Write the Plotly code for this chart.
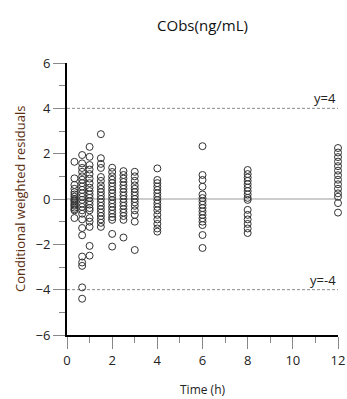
import plotly.graph_objects as go

# Observation times (h) and conditional weighted residuals per time point
times = [0.33, 0.67, 1, 1.5, 2, 2.5, 3, 4, 6, 8, 12]
res_033 = [1.64, 0.91, 0.62, 0.45, 0.3, 0.2, 0.1, 0.0, -0.05, -0.1, -0.18, -0.25, -0.3, -0.38, -0.45, -0.5, -0.84]
res_067 = [1.94, 1.57, 1.37, 1.2, 1.0, 0.85, 0.7, 0.55, 0.4, 0.25, 0.1, -0.04, -0.2, -0.35, -0.5, -0.65, -0.9,
           -1.28, -1.6, -2.54, -2.8, -2.95, -3.9, -4.4]
res_1 = [2.3, 1.86, 1.5, 1.3, 1.1, 0.9, 0.7, 0.5, 0.35, 0.2, 0.05, -0.1, -0.25, -0.4, -0.5, -0.84, -1.0, -1.23, -2.07, -2.5]
res_15 = [2.86, 1.8, 1.55, 1.37, 0.97, 0.8, 0.6, 0.45, 0.3, 0.15, 0.0, -0.15, -0.3, -0.45, -0.6, -0.75, -0.9, -1.05, -1.23]
res_2 = [1.38, 1.19, 1.0, 0.85, 0.7, 0.55, 0.4, 0.25, 0.1, -0.05, -0.2, -0.35, -0.5, -0.65, -0.8, -0.92, -1.54, -2.1]
res_25 = [1.23, 1.06, 0.9, 0.75, 0.6, 0.45, 0.3, 0.15, 0.0, -0.15, -0.3, -0.45, -0.6, -0.75, -0.92, -1.7]
res_3 = [1.2, 1.0, 0.8, 0.6, 0.45, 0.3, 0.15, 0.0, -0.15, -0.3, -0.5, -0.7, -1.0, -2.25]
res_4 = [1.35, 0.84, 0.7, 0.55, 0.4, 0.25, 0.1, -0.05, -0.2, -0.35, -0.5, -0.7, -0.9, -1.1, -1.3, -1.44]
res_6 = [2.33, 1.06, 0.84, 0.54, 0.2, 0.04, -0.1, -0.25, -0.4, -0.55, -0.7, -0.85, -1.0, -1.15, -1.59, -2.16]
res_8 = [1.28, 1.1, 0.95, 0.8, 0.65, 0.5, 0.35, 0.2, 0.05, -0.04, -0.48, -0.7, -0.9, -1.1, -1.3, -1.5]
res_12 = [2.25, 2.05, 1.85, 1.65, 1.45, 1.25, 1.05, 0.85, 0.65, 0.45, 0.25, 0.1, -0.18, -0.6]

residuals = [res_033, res_067, res_1, res_15, res_2, res_25, res_3, res_4, res_6, res_8, res_12]
ref_levels = [4, -4]
ref_labels = ["y=4", "y=-4"]

xs, ys = [], []
for t, vals in zip(times, residuals):
    xs += [t] * len(vals)
    ys += vals

FONT = "Open Sans"
fig = go.Figure()

# zero line
fig.add_trace(go.Scatter(x=[0, 12], y=[0, 0], mode="lines",
                         line=dict(color="#9a9a9a", width=1), hoverinfo="skip", showlegend=False))
# +/-4 reference lines
for lv in ref_levels:
    fig.add_trace(go.Scatter(x=[0, 12], y=[lv, lv], mode="lines",
                             line=dict(color="#8a8a8a", width=1, dash="3px,2px"),
                             hoverinfo="skip", showlegend=False))

fig.add_trace(go.Scatter(x=xs, y=ys, mode="markers",
                         marker=dict(symbol="circle-open", size=7, color="#333333", line=dict(width=1)),
                         cliponaxis=False, showlegend=False))

for lv, lab in zip(ref_levels, ref_labels):
    fig.add_annotation(x=12, y=lv, text=lab, showarrow=False, xanchor="right", yanchor="bottom",
                       yshift=-1, font=dict(family=FONT, size=13, color="#222"))

fig.add_annotation(xref="paper", yref="paper", x=0, y=0.5, xshift=-47, xanchor="center", yanchor="middle",
                   text="Conditional weighted residuals",
                   textangle=-90, showarrow=False, font=dict(family=FONT, size=13, color="#5a2e10"))
fig.add_annotation(xref="paper", yref="paper", x=0.5, y=0, yshift=-54, text="Time (h)",
                   showarrow=False, yanchor="middle", font=dict(family=FONT, size=12, color="#222"))

fig.update_layout(
    width=347, height=399,
    margin=dict(l=67, r=9, t=63, b=64),
    paper_bgcolor="white", plot_bgcolor="white",
    title=dict(text="CObs(ng/mL)", x=0.5836, xanchor="center", y=0.935, yanchor="middle",
               font=dict(family=FONT, size=15, color="#111")),
    font=dict(family=FONT, size=13, color="#222"),
    showlegend=False,
)
fig.update_xaxes(range=[0, 12], tickvals=[0, 2, 4, 6, 8, 10, 12], ticks="outside", ticklen=12,
                 tickcolor="#888", tickwidth=1, showgrid=False, zeroline=False,
                 showline=True, linecolor="black", linewidth=2, automargin=False,
                 minor=dict(tickvals=[1, 3, 5, 7, 9, 11], ticks="outside", ticklen=6, tickcolor="#888", showgrid=False),
                 tickfont=dict(family=FONT, size=13, color="#222"))
fig.update_yaxes(range=[-6, 6], tickvals=[-6, -4, -2, 0, 2, 4, 6], ticks="outside", ticklen=12,
                 tickcolor="#888", tickwidth=1, showgrid=False, zeroline=False,
                 showline=True, linecolor="black", linewidth=2, automargin=False,
                 minor=dict(tickvals=[-5, -3, -1, 1, 3, 5], ticks="outside", ticklen=6, tickcolor="#888", showgrid=False),
                 tickfont=dict(family=FONT, size=13, color="#222"))

fig.write_html("out.html")
